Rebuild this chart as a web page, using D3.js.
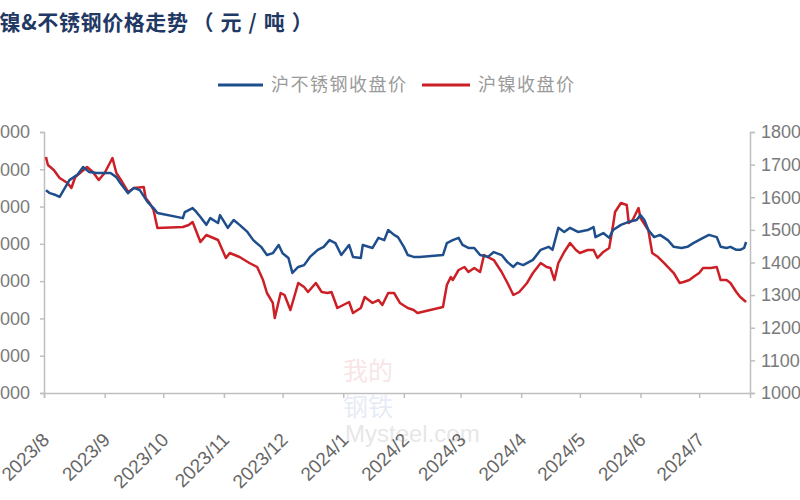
<!DOCTYPE html>
<html>
<head>
<meta charset="utf-8">
<script src="https://cdn.jsdelivr.net/npm/d3@7"></script>
<style>
body { margin: 0; background: #fff; }
svg { display: block; }
</style>
</head>
<body>
<div id="chart"></div>
<script>

// stainless steel closing price (left axis)
var ssDates = [
    "2023-08-02","2023-08-04","2023-08-07","2023-08-09","2023-08-12","2023-08-14","2023-08-18","2023-08-21","2023-08-24","2023-08-28",
    "2023-09-04","2023-09-07","2023-09-09","2023-09-13","2023-09-16","2023-09-19","2023-09-23","2023-09-26","2023-09-28",
    "2023-10-11","2023-10-12","2023-10-16","2023-10-18","2023-10-20","2023-10-23","2023-10-25","2023-10-29","2023-10-30",
    "2023-11-03","2023-11-06","2023-11-09","2023-11-13","2023-11-16","2023-11-20","2023-11-23","2023-11-26","2023-11-29",
    "2023-12-01","2023-12-04","2023-12-06","2023-12-09","2023-12-12","2023-12-15","2023-12-19","2023-12-22","2023-12-25","2023-12-28","2023-12-31",
    "2024-01-04","2024-01-06","2024-01-10","2024-01-11","2024-01-16","2024-01-19","2024-01-22","2024-01-24","2024-01-27","2024-01-29",
    "2024-02-01","2024-02-03","2024-02-06","2024-02-09","2024-02-21","2024-02-23","2024-02-26","2024-02-29",
    "2024-03-02","2024-03-05","2024-03-08","2024-03-11","2024-03-15","2024-03-18","2024-03-22","2024-03-25","2024-03-28","2024-03-30",
    "2024-04-02","2024-04-07","2024-04-11","2024-04-15","2024-04-17","2024-04-20","2024-04-23","2024-04-26","2024-04-30",
    "2024-05-05","2024-05-08","2024-05-09","2024-05-13","2024-05-16","2024-05-18","2024-05-22","2024-05-26","2024-05-30",
    "2024-06-01","2024-06-03","2024-06-05","2024-06-08","2024-06-11","2024-06-15","2024-06-18","2024-06-22","2024-06-25","2024-06-28",
    "2024-07-03","2024-07-06","2024-07-10","2024-07-12","2024-07-15","2024-07-17","2024-07-20","2024-07-22","2024-07-24","2024-07-25"
];
var ssValues = [
    15440,15360,15310,15260,15530,15710,15850,16060,15930,15900,
    15900,15790,15630,15360,15500,15440,15120,14960,14830,
    14690,14850,14960,14850,14720,14510,14690,14560,14770,
    14430,14640,14510,14320,14100,13920,13700,13750,13970,
    13750,13620,13220,13380,13430,13650,13840,13920,14100,14020,13700,
    13970,13650,13620,13970,13890,14160,14100,14370,14240,14180,
    13920,13700,13650,13650,13700,14020,14100,14160,
    13970,13890,13890,13700,13650,13780,13700,13510,13380,13490,
    13430,13570,13840,13920,13840,14430,14320,14430,14320,
    14370,14450,14180,14290,14160,14370,14510,14590,14640,
    14770,14640,14370,14180,14240,14100,13920,13890,13920,14020,
    14160,14240,14180,13920,13890,13920,13840,13840,13890,14050
];

// nickel closing price (right axis)
var niDates = [
    "2023-08-02","2023-08-03","2023-08-06","2023-08-09","2023-08-13","2023-08-15","2023-08-17","2023-08-20","2023-08-23","2023-08-26","2023-08-29",
    "2023-09-01","2023-09-05","2023-09-07","2023-09-10","2023-09-13","2023-09-16","2023-09-21","2023-09-22","2023-09-24","2023-09-26","2023-09-28",
    "2023-10-11","2023-10-14","2023-10-16","2023-10-20","2023-10-23","2023-10-29",
    "2023-11-02","2023-11-04","2023-11-09","2023-11-14","2023-11-18","2023-11-21","2023-11-23","2023-11-26","2023-11-27","2023-11-30",
    "2023-12-02","2023-12-05","2023-12-09","2023-12-12","2023-12-14","2023-12-18","2023-12-21","2023-12-24","2023-12-26","2023-12-29",
    "2024-01-01","2024-01-04","2024-01-06","2024-01-10","2024-01-12","2024-01-16","2024-01-19","2024-01-21","2024-01-24","2024-01-27","2024-01-30",
    "2024-02-03","2024-02-06","2024-02-08","2024-02-21","2024-02-23","2024-02-25","2024-02-26","2024-02-29",
    "2024-03-03","2024-03-05","2024-03-08","2024-03-11","2024-03-13","2024-03-15","2024-03-18","2024-03-22","2024-03-25","2024-03-28","2024-03-31",
    "2024-04-04","2024-04-07","2024-04-11","2024-04-14","2024-04-16","2024-04-18","2024-04-20","2024-04-23","2024-04-26","2024-04-29",
    "2024-05-01","2024-05-05","2024-05-08","2024-05-10","2024-05-13","2024-05-16","2024-05-18","2024-05-19","2024-05-22","2024-05-25","2024-05-26","2024-05-28","2024-05-31",
    "2024-06-01","2024-06-05","2024-06-07","2024-06-10","2024-06-13","2024-06-18","2024-06-21","2024-06-23","2024-06-26","2024-06-28",
    "2024-07-01","2024-07-03","2024-07-07","2024-07-10","2024-07-12","2024-07-15","2024-07-17","2024-07-20","2024-07-22","2024-07-25"
];
var niValues = [
    172330,169880,168350,165900,164370,162830,166200,167740,169270,167740,165280,
    167430,172030,167430,164670,161610,162830,163140,159770,158240,156090,150570,
    150880,151490,152410,146280,148430,146890,
    141380,142910,141680,139850,138620,134630,130650,127590,122990,130650,
    130040,125440,133720,132490,130960,133720,130960,130650,130960,126050,
    126970,127890,124520,126050,129420,127590,128500,126970,130650,130650,127590,
    126050,125440,124520,126360,133100,135550,134630,137700,
    138620,137090,138310,137090,142300,141680,140760,137090,133720,130040,130960,
    133720,136780,139850,138620,138310,134630,139850,143220,145980,143830,
    142910,143830,143830,141380,143220,144440,151490,155480,158240,157620,152110,153020,156700,
    153640,149960,142910,141680,139850,136780,133720,134020,134630,135550,
    136780,138310,138310,138620,134630,134630,133720,130960,129420,127890
];

var leftTicks = [10000, 11000, 12000, 13000, 14000, 15000, 16000, 17000];
var rightTicks = [100000, 110000, 120000, 130000, 140000, 150000, 160000, 170000, 180000];
var monthTicks = ["2023-08-01","2023-09-01","2023-10-01","2023-11-01","2023-12-01","2024-01-01",
                  "2024-02-01","2024-03-01","2024-04-01","2024-05-01","2024-06-01","2024-07-01"];

var seriesNames = ["沪不锈钢收盘价", "沪镍收盘价"];
var titleMain = "沪镍&不锈钢价格走势";
var titleUnit = "（元/吨）";

var W = 800, H = 500;
var plot = {left: 44, right: 750, top: 132, bottom: 393};
var blue = "#1f4e8c", red = "#cc1f26", axisGrey = "#bfbfbf", labelGrey = "#7a7a7a";

var parse = d3.timeParse("%Y-%m-%d");

var svg = d3.select("#chart").append("svg")
    .attr("width", W)
    .attr("height", H)
    .style("font-family", "'Liberation Sans', Arial, sans-serif");

// scales
var x = d3.scaleTime()
    .domain([parse("2023-08-01"), parse("2024-07-27")])
    .range([plot.left, plot.right]);

var yLeft = d3.scaleLinear()
    .domain([10000, 17000])
    .range([plot.bottom, plot.top]);

var yRight = d3.scaleLinear()
    .domain([100000, 180000])
    .range([plot.bottom, plot.top]);

// title (its first character falls outside the picture, like the cropped original)
var title = svg.append("text")
    .attr("x", -22)
    .attr("y", 30)
    .attr("fill", "#1f3864")
    .attr("font-size", 21)
    .attr("font-weight", "bold")
    .attr("letter-spacing", 0.6)
    .style("font-family", "'Noto Sans CJK SC', sans-serif");
title.append("tspan").text(titleMain);
title.append("tspan").attr("dx", 4).attr("letter-spacing", 7).text(titleUnit);

// legend
var legend = svg.append("g").style("font-family", "'Noto Sans CJK SC', sans-serif");
var legendItems = [
    {name: seriesNames[0], color: blue, x0: 218, x1: 263},
    {name: seriesNames[1], color: red, x0: 422, x1: 470}
];
legendItems.forEach(function (d) {
    legend.append("line")
        .attr("x1", d.x0).attr("x2", d.x1)
        .attr("y1", 85).attr("y2", 85)
        .attr("stroke", d.color)
        .attr("stroke-width", 3);
    legend.append("text")
        .attr("x", d.x1 + 8)
        .attr("y", 91)
        .attr("fill", "#9a9a9a")
        .attr("font-size", 18)
        .attr("letter-spacing", 1.5)
        .text(d.name);
});

// faint watermark
var wm = svg.append("g").attr("opacity", 0.25).style("font-family", "'Noto Sans CJK SC', sans-serif");
wm.append("text").attr("x", 343).attr("y", 380).attr("fill", "#e79a9a").attr("font-size", 25).text("我的");
wm.append("text").attr("x", 343).attr("y", 416).attr("fill", "#9fb3d9").attr("font-size", 25).text("钢铁");
svg.append("text")
    .attr("x", 345)
    .attr("y", 442)
    .attr("fill", "#d8d8d8")
    .attr("font-size", 24)
    .attr("opacity", 0.6)
    .text("Mysteel.com");

// axes
var gLeft = svg.append("g")
    .attr("transform", "translate(" + plot.left + ",0)")
    .call(d3.axisLeft(yLeft).tickValues(leftTicks).tickSize(4).tickPadding(10).tickFormat(d3.format("d")));

var gRight = svg.append("g")
    .attr("transform", "translate(" + plot.right + ",0)")
    .call(d3.axisRight(yRight).tickValues(rightTicks).tickSize(5).tickPadding(6).tickFormat(d3.format("d")));

var gBottom = svg.append("g")
    .attr("transform", "translate(0," + plot.bottom + ")")
    .call(d3.axisBottom(x).tickValues(monthTicks.map(parse)).tickSize(5).tickFormat(d3.timeFormat("%Y/%-m")));

[gLeft, gRight, gBottom].forEach(function (g) {
    g.select(".domain").attr("stroke", axisGrey).attr("stroke-width", 1.5);
    g.selectAll(".tick line").attr("stroke", axisGrey).attr("stroke-width", 1.5);
    g.selectAll(".tick text")
        .attr("fill", labelGrey)
        .attr("font-size", 18)
        .style("font-family", "'Liberation Sans', Arial, sans-serif");
});

// rotated month labels
gBottom.selectAll(".tick text")
    .attr("font-size", 19)
    .attr("fill", "#666")
    .attr("text-anchor", "end")
    .attr("dy", 0)
    .attr("y", 0)
    .attr("transform", "translate(6,48) rotate(-45)");

// lines
var ssData = d3.zip(ssDates, ssValues).map(function (d) { return {date: parse(d[0]), value: d[1]}; });
var niData = d3.zip(niDates, niValues).map(function (d) { return {date: parse(d[0]), value: d[1]}; });

var ssLine = d3.line()
    .x(function (d) { return x(d.date); })
    .y(function (d) { return yLeft(d.value); });

var niLine = d3.line()
    .x(function (d) { return x(d.date); })
    .y(function (d) { return yRight(d.value); });

svg.append("path")
    .datum(niData)
    .attr("fill", "none")
    .attr("stroke", red)
    .attr("stroke-width", 2.5)
    .attr("stroke-linejoin", "round")
    .attr("d", niLine);

svg.append("path")
    .datum(ssData)
    .attr("fill", "none")
    .attr("stroke", blue)
    .attr("stroke-width", 2.5)
    .attr("stroke-linejoin", "round")
    .attr("d", ssLine);

</script>
</body>
</html>
